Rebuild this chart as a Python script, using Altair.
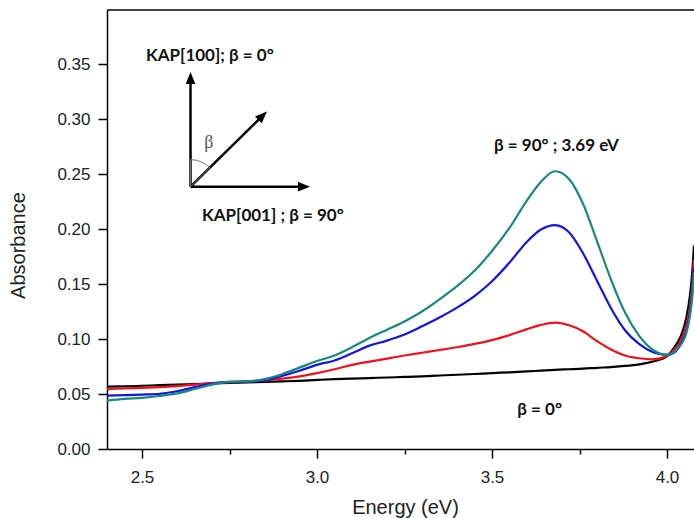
import altair as alt
import pandas as pd

# ---------------- data ----------------
energy = [2.40, 2.45, 2.50, 2.55, 2.60, 2.65, 2.70, 2.75, 2.80, 2.85, 2.90, 2.95,
          3.00, 3.05, 3.10, 3.15, 3.20, 3.25, 3.30, 3.35, 3.40, 3.45, 3.50, 3.55,
          3.60, 3.64, 3.68, 3.72, 3.76, 3.80, 3.84, 3.88, 3.92, 3.96, 4.00, 4.02,
          4.04, 4.055, 4.065, 4.072, 4.077]

abs_beta0 = [0.0567, 0.0570, 0.0575, 0.0580, 0.0585, 0.0590, 0.0597, 0.0600, 0.0605, 0.0610,
             0.0615, 0.0620, 0.0628, 0.0635, 0.0640, 0.0645, 0.0650, 0.0655, 0.0660, 0.0668,
             0.0675, 0.0682, 0.0690, 0.0697, 0.0705, 0.0713, 0.0720, 0.0725, 0.0730, 0.0738,
             0.0745, 0.0755, 0.0770, 0.0795, 0.0845, 0.0920, 0.1030, 0.1190, 0.1380, 0.1600,
             0.1850]

abs_red = [0.0545, 0.0550, 0.0555, 0.0562, 0.0572, 0.0585, 0.0598, 0.0608, 0.0614, 0.0624,
           0.0640, 0.0660, 0.0690, 0.0725, 0.0765, 0.0795, 0.0822, 0.0850, 0.0875, 0.0900,
           0.0925, 0.0955, 0.0990, 0.1035, 0.1090, 0.1128, 0.1148, 0.1125, 0.1070, 0.0980,
           0.0905, 0.0850, 0.0825, 0.0815, 0.0845, 0.0900, 0.0990, 0.1120, 0.1280, 0.1480,
           0.1720]

abs_blue = [0.0485, 0.0490, 0.0495, 0.0502, 0.0525, 0.0562, 0.0595, 0.0610, 0.0612, 0.0625,
            0.0665, 0.0712, 0.0765, 0.0805, 0.0870, 0.0940, 0.0985, 0.1040, 0.1115, 0.1195,
            0.1285, 0.1390, 0.1525, 0.1695, 0.1885, 0.1995, 0.2035, 0.1970, 0.1780, 0.1530,
            0.1280, 0.1080, 0.0955, 0.0880, 0.0855, 0.0875, 0.0960, 0.1070, 0.1230, 0.1420,
            0.1650]

abs_beta90 = [0.0440, 0.0455, 0.0465, 0.0482, 0.0505, 0.0545, 0.0585, 0.0610, 0.0615, 0.0635,
              0.0680, 0.0740, 0.0800, 0.0850, 0.0925, 0.1010, 0.1085, 0.1160, 0.1250, 0.1360,
              0.1480, 0.1620, 0.1800, 0.2010, 0.2260, 0.2430, 0.2525, 0.2455, 0.2230, 0.1890,
              0.1540, 0.1240, 0.1030, 0.0900, 0.0855, 0.0880, 0.0950, 0.1050, 0.1200, 0.1380,
              0.1600]

series_names = ["beta0", "red", "blue", "beta90"]
series_colors = ["#000000", "#f2101a", "#1414e6", "#16897e"]
series_order = [4, 3, 2, 1]

y_ticks = [round(i * 0.025, 3) for i in range(16)]
x_ticks = [2.5, 2.75, 3.0, 3.25, 3.5, 3.75, 4.0]

# annotation (diagram + labels) in data coordinates
label_texts = ["KAP[100]; β = 0°", "KAP[001] ; β = 90°", "β = 90° ; 3.69 eV", "β = 0°"]
label_x = [2.694, 2.874, 3.684, 3.636]
label_y = [0.357, 0.2118, 0.2755, 0.0355]

arrow_origin = (2.6386, 0.2385)
arrow_end_x = [2.6386, 2.960, 2.8449]
arrow_end_y = [0.3355, 0.2385, 0.3030]
head_x = [2.6386, 2.980, 2.857]
head_y = [0.3427, 0.2385, 0.3068]
head_angle = [0, 90, 45.5]
beta_sym_x, beta_sym_y = 2.691, 0.278

# ---------------- build tables ----------------
rows = []
for name, vals, order in zip(series_names, [abs_beta0, abs_red, abs_blue, abs_beta90], series_order):
    for e, a in zip(energy, vals):
        rows.append({"Energy": e, "Absorbance": a, "series": name, "ord": order})
df = pd.DataFrame(rows)

W, H = 587, 439
x_scale = alt.Scale(domain=[2.4, 2.4 + W / 350.0], nice=False, zero=False)
y_scale = alt.Scale(domain=[0, H / 1100.0], nice=False, zero=False)

major_y = "abs(datum.value*20 - round(datum.value*20)) < 0.001"
major_x = "abs(datum.value*2 - round(datum.value*2)) < 0.001"

x_axis = alt.Axis(
    values=x_ticks, title="Energy (eV)",
    labelExpr=f"{major_x} ? format(datum.value, '.1f') : ''",
    tickSize={"condition": {"test": major_x, "value": 9}, "value": 5},
    labelPadding=11, grid=False,
    titleX=298, titleY=58, titleBaseline="middle", titleAlign="center",
)
y_axis = alt.Axis(
    values=y_ticks, title="Absorbance",
    labelExpr=f"{major_y} ? format(datum.value, '.2f') : ''",
    tickSize={"condition": {"test": major_y, "value": 9}, "value": 5},
    labelPadding=8, grid=False,
    titleX=-89, titleY=235, titleBaseline="middle", titleAlign="center", titleAngle=270,
)

lines = alt.Chart(df).mark_line(strokeWidth=2.2, interpolate="monotone", clip=True).encode(
    x=alt.X("Energy:Q", scale=x_scale, axis=x_axis),
    y=alt.Y("Absorbance:Q", scale=y_scale, axis=y_axis),
    color=alt.Color("series:N", scale=alt.Scale(domain=series_names, range=series_colors), legend=None),
    order=alt.Order("ord:Q"),
    detail="series:N",
)

lab_df = pd.DataFrame({"x": label_x, "y": label_y, "t": label_texts})
labels = alt.Chart(lab_df).mark_text(
    font="Lato", fontWeight="bold", fontSize=17, color="#111", align="center", baseline="middle"
).encode(x=alt.X("x:Q", scale=x_scale), y=alt.Y("y:Q", scale=y_scale), text="t:N")

arr_df = pd.DataFrame({"x": [arrow_origin[0]] * 3, "y": [arrow_origin[1]] * 3,
                       "x2": arrow_end_x, "y2": arrow_end_y})
arrows = alt.Chart(arr_df).mark_rule(color="black", strokeWidth=2.5).encode(
    x=alt.X("x:Q", scale=x_scale), y=alt.Y("y:Q", scale=y_scale), x2="x2:Q", y2="y2:Q"
)

head_df = pd.DataFrame({"x": head_x, "y": head_y, "ang": head_angle})
heads = alt.Chart(head_df).mark_point(
    shape="M0,0L-0.8,2L0.8,2Z", size=144, filled=True, color="black", opacity=1, strokeWidth=0
).encode(x=alt.X("x:Q", scale=x_scale), y=alt.Y("y:Q", scale=y_scale),
         angle=alt.Angle("ang:Q", scale=None))

org_df = pd.DataFrame({"x": [arrow_origin[0]], "y": [arrow_origin[1]]})
arc = alt.Chart(org_df).mark_arc(
    radius=27, theta=0, theta2=0.794, fillOpacity=0, stroke="#777", strokeWidth=1
).encode(x=alt.X("x:Q", scale=x_scale), y=alt.Y("y:Q", scale=y_scale))

beta_df = pd.DataFrame({"x": [beta_sym_x], "y": [beta_sym_y], "t": ["β"]})
beta_txt = alt.Chart(beta_df).mark_text(
    font="Liberation Serif", fontSize=18, color="#555", align="center", baseline="middle"
).encode(x=alt.X("x:Q", scale=x_scale), y=alt.Y("y:Q", scale=y_scale), text="t:N")

frame = alt.Chart(pd.DataFrame({"a": [0]})).mark_rule(color="black", strokeWidth=1.5).encode(
    x=alt.value(0), x2=alt.value(W), y=alt.value(0)
)

chart = alt.layer(lines, arrows, heads, arc, beta_txt, labels, frame).properties(
    width=W, height=H,
    autosize=alt.AutoSizeParams(type="none"),
    padding={"left": 107, "top": 10, "right": 0, "bottom": 69},
    background="white",
).configure_view(stroke=None).configure_axis(
    domainColor="black", domainWidth=1.5, tickColor="black", tickWidth=1.5,
    labelFont="Liberation Sans", labelFontSize=17, labelColor="#222",
    titleFont="Liberation Sans", titleFontSize=20, titleFontWeight="normal", titleColor="#222",
)

chart.save("out.html", embed_options={"renderer": "svg", "actions": False})
